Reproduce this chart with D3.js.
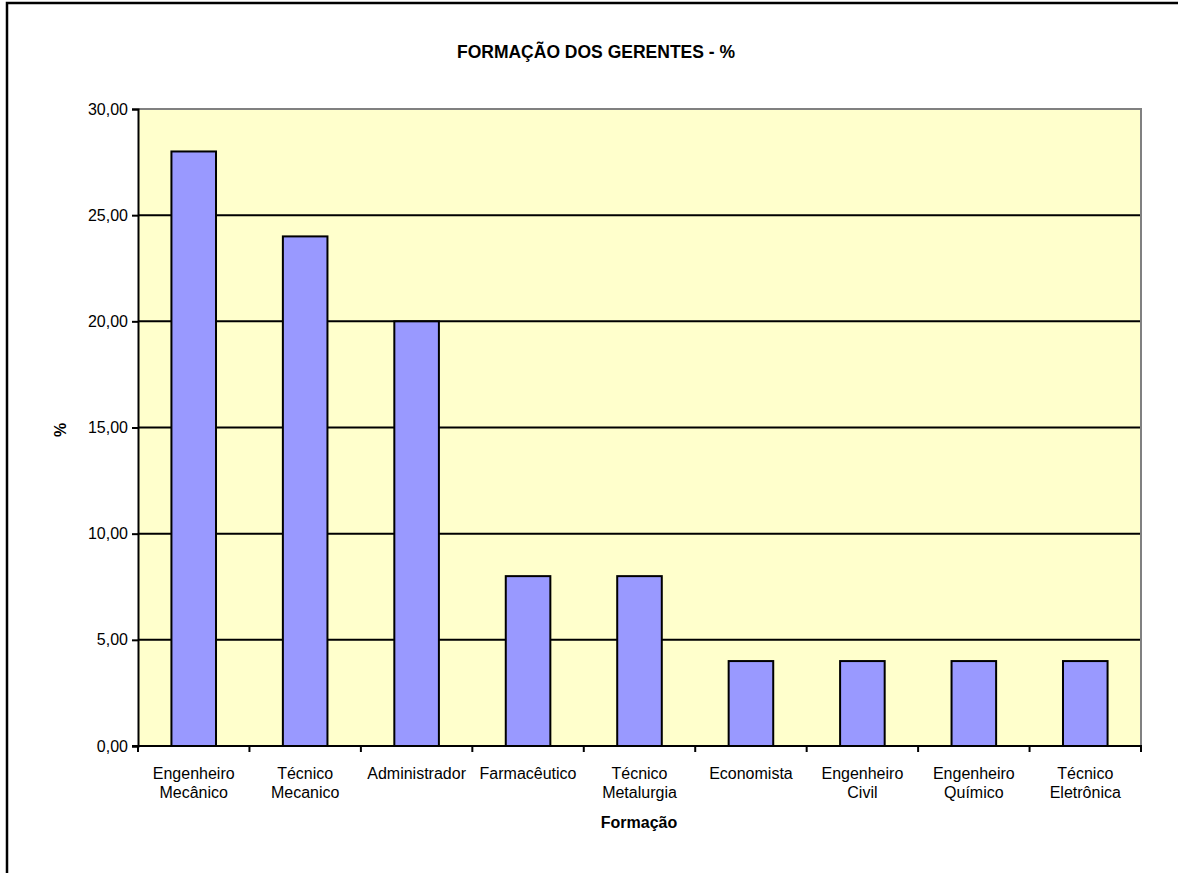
<!DOCTYPE html>
<html>
<head>
<meta charset="utf-8">
<script src="https://cdn.jsdelivr.net/npm/d3@7"></script>
<style>
  html, body { margin: 0; padding: 0; background: #fff; overflow: hidden; }
  svg { display: block; font-family: "Liberation Sans", Arial, sans-serif; }
</style>
</head>
<body>
<svg id="chart" width="1178" height="873"></svg>
<script>
// Categories (two-line labels) and share of managers per background, in %
const categories = [
  ["Engenheiro", "Mecânico"],
  ["Técnico", "Mecanico"],
  ["Administrador"],
  ["Farmacêutico"],
  ["Técnico", "Metalurgia"],
  ["Economista"],
  ["Engenheiro", "Civil"],
  ["Engenheiro", "Químico"],
  ["Técnico", "Eletrônica"]
];
const values = [28, 24, 20, 8, 8, 4, 4, 4, 4];
const yTicks = [0, 5, 10, 15, 20, 25, 30];

const title = "FORMAÇÃO DOS GERENTES - %";
const xTitle = "Formação";
const yTitle = "%";

const svg = d3.select("#chart");
const plot = { left: 138, right: 1141, top: 109, bottom: 746 };

// Outer chart frame (continues past the right and bottom edges)
svg.append("path")
  .attr("d", "M7,900V3H1200")
  .attr("fill", "none").attr("stroke", "#000").attr("stroke-width", 2.5);

const keys = categories.map((d, i) => i);
const x = d3.scaleBand().domain(keys).range([plot.left, plot.right]).paddingInner(0).paddingOuter(0);
const y = d3.scaleLinear().domain([0, 30]).range([plot.bottom, plot.top]);

// Plot background
svg.append("rect")
  .attr("x", plot.left).attr("y", plot.top)
  .attr("width", plot.right - plot.left).attr("height", plot.bottom - plot.top)
  .attr("fill", "#FFFFCC");

// Gridlines
svg.append("g").selectAll("line")
  .data(yTicks.filter(t => t > 0 && t < 30))
  .join("line")
  .attr("x1", plot.left).attr("x2", plot.right)
  .attr("y1", d => y(d)).attr("y2", d => y(d))
  .attr("stroke", "#000").attr("stroke-width", 2);

// Gray top/right plot border
svg.append("path")
  .attr("d", `M${plot.left},${plot.top}H${plot.right}V${plot.bottom}`)
  .attr("fill", "none").attr("stroke", "#808080").attr("stroke-width", 2);

// Bars
const barW = x.bandwidth() * 0.4;
svg.append("g").selectAll("rect")
  .data(values)
  .join("rect")
  .attr("x", (d, i) => x(i) + (x.bandwidth() - barW) / 2)
  .attr("y", d => y(d))
  .attr("width", barW)
  .attr("height", d => y(0) - y(d))
  .attr("fill", "#9999FF")
  .attr("stroke", "#000").attr("stroke-width", 2);

// Y axis
const fmt = d => d.toFixed(2).replace(".", ",");
const yAxis = svg.append("g")
  .attr("transform", `translate(${plot.left},0)`)
  .call(d3.axisLeft(y).tickValues(yTicks).tickFormat(fmt).tickSize(6).tickPadding(4));
yAxis.select(".domain").attr("stroke", "#000").attr("stroke-width", 2);
yAxis.selectAll(".tick line").attr("stroke", "#000").attr("stroke-width", 2);
yAxis.selectAll(".tick text").attr("font-size", 16).attr("fill", "#000")
  .attr("font-family", "Liberation Sans, Arial, sans-serif");

// X axis: ticks at category boundaries
const boundaries = keys.map(i => x(i)).concat([plot.right]);
svg.append("line")
  .attr("x1", plot.left - 6).attr("x2", plot.right + 1)
  .attr("y1", plot.bottom).attr("y2", plot.bottom)
  .attr("stroke", "#000").attr("stroke-width", 2);
svg.append("g").selectAll("line")
  .data(boundaries)
  .join("line")
  .attr("x1", d => d).attr("x2", d => d)
  .attr("y1", plot.bottom).attr("y2", plot.bottom + 6)
  .attr("stroke", "#000").attr("stroke-width", 2);

// Category labels
const lab = svg.append("g").selectAll("text")
  .data(categories)
  .join("text")
  .attr("x", (d, i) => x(i) + x.bandwidth() / 2)
  .attr("y", 779)
  .attr("text-anchor", "middle")
  .attr("font-size", 16)
  .attr("fill", "#000");
lab.selectAll("tspan")
  .data(d => d)
  .join("tspan")
  .attr("x", function () { return d3.select(this.parentNode).attr("x"); })
  .attr("dy", (d, i) => i === 0 ? 0 : 19)
  .text(d => d);

// Titles
svg.append("text")
  .attr("x", 596).attr("y", 58)
  .attr("text-anchor", "middle")
  .attr("font-size", 17.5).attr("font-weight", "bold")
  .text(title);

svg.append("text")
  .attr("x", 639).attr("y", 828)
  .attr("text-anchor", "middle")
  .attr("font-size", 16).attr("font-weight", "bold")
  .text(xTitle);

svg.append("text")
  .attr("transform", "translate(66,430) rotate(-90)")
  .attr("text-anchor", "middle")
  .attr("font-size", 16).attr("font-weight", "bold")
  .text(yTitle);
</script>
</body>
</html>
